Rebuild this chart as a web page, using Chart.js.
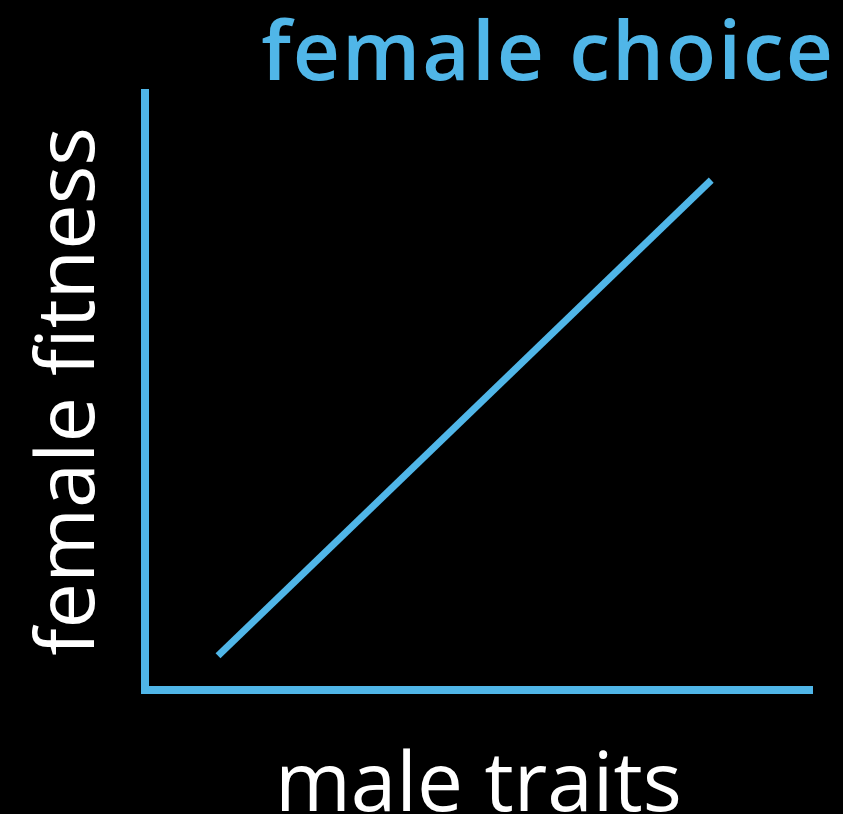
<!DOCTYPE html>
<html>
<head>
<meta charset="utf-8">
<script src="https://cdn.jsdelivr.net/npm/chart.js@4.4.1/dist/chart.umd.min.js"></script>
<style>
  html, body { margin: 0; padding: 0; background: #000; }
  canvas { display: block; }
</style>
</head>
<body>
<canvas id="choiceChart" width="843" height="814"></canvas>
<script>
// sketch values
const traitLevels = [11.0, 84.9];
const fitnessLevels = [5.7, 85.4];
const chartTitle = 'female choice';
const xLabel = 'male traits';
const yLabel = 'female fitness';

const blue = '#50b6e8';

// title sits top right, a bit past the axis end, so draw it ourselves
const cornerTitle = {
    id: 'cornerTitle',
    afterDraw(chart) {
        const ctx = chart.ctx;
        ctx.save();
        ctx.font = '600 82px "Open Sans"';
        if ('letterSpacing' in ctx) ctx.letterSpacing = '2px';
        ctx.fillStyle = blue;
        ctx.textAlign = 'right';
        ctx.textBaseline = 'alphabetic';
        ctx.fillText(chartTitle, chart.width - 8, chart.chartArea.top - 13);
        ctx.restore();
    }
};

const points = traitLevels.map((t, i) => ({ x: t, y: fitnessLevels[i] }));

new Chart(document.getElementById('choiceChart'), {
    type: 'line',
    data: {
        datasets: [{
            data: points,
            borderColor: blue,
            borderWidth: 7,
            borderCapStyle: 'butt',
            pointRadius: 0,
            fill: false
        }]
    },
    options: {
        responsive: false,
        animation: false,
        layout: {
            padding: { top: 93, right: 31, bottom: 0, left: 0 }
        },
        plugins: {
            legend: { display: false },
            tooltip: { enabled: false }
        },
        scales: {
            x: {
                type: 'linear',
                min: 0,
                max: 100,
                ticks: { display: false },
                grid: { display: false, drawTicks: false },
                border: { display: true, color: blue, width: 8 },
                title: {
                    display: true,
                    text: xLabel,
                    color: '#fff',
                    font: { family: '"Open Sans"', size: 82, lineHeight: 0.6 },
                    padding: { top: 73, bottom: 2 }
                }
            },
            y: {
                type: 'linear',
                min: 0,
                max: 100,
                ticks: { display: false },
                grid: { display: false, drawTicks: false },
                border: { display: true, color: blue, width: 8 },
                title: {
                    display: true,
                    text: yLabel,
                    color: '#fff',
                    font: { family: '"Open Sans"', size: 81, lineHeight: 0.6 },
                    padding: { top: 47, bottom: 49 }
                }
            }
        }
    },
    plugins: [cornerTitle]
});
</script>
</body>
</html>
